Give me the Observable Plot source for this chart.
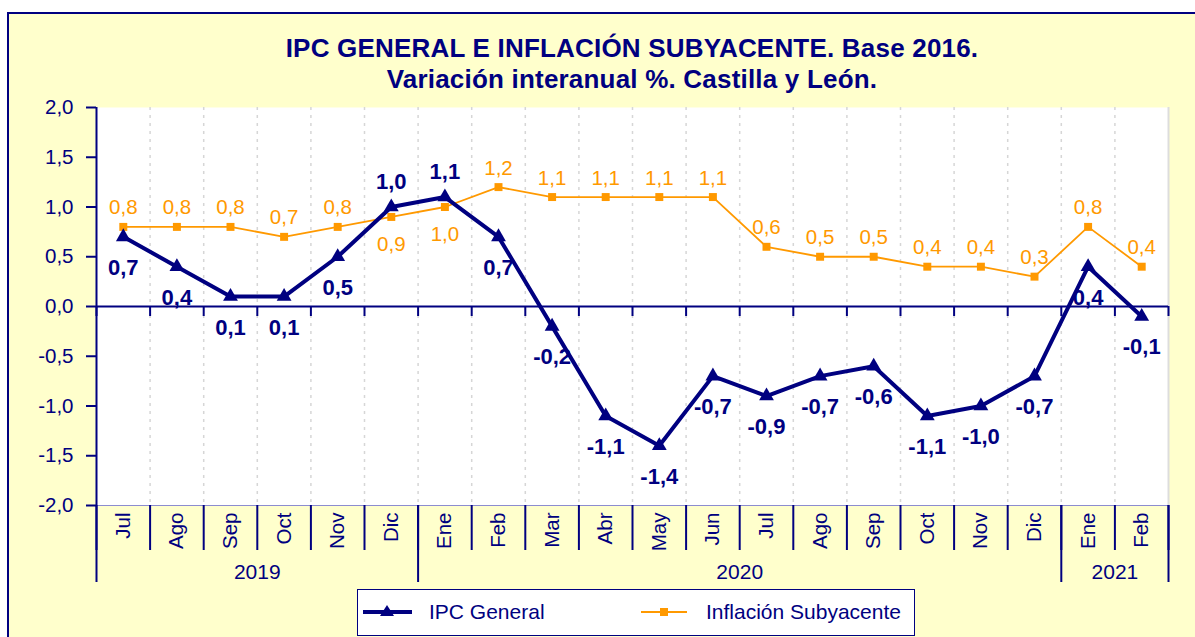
<!DOCTYPE html>
<html><head><meta charset="utf-8">
<script src="https://cdn.jsdelivr.net/npm/d3@7"></script>
<script src="https://cdn.jsdelivr.net/npm/@observablehq/plot@0.6"></script>
<style>
body{margin:0;background:#fff;}
#wrap{position:relative;width:1195px;height:637px;overflow:hidden;font-family:"Liberation Sans",Arial,sans-serif;}
#bg{position:absolute;left:7px;top:12px;width:1300px;height:700px;background:#FFFFCC;border:2.5px solid #000080;box-sizing:border-box;}
#title{position:absolute;left:0;top:33px;width:1264px;text-align:center;font-weight:bold;font-size:26px;line-height:31px;letter-spacing:0.2px;color:#000080;}
#chart{position:absolute;left:0;top:0;}
#legend{position:absolute;left:357px;top:589px;width:558px;height:47px;box-sizing:border-box;border:1.5px solid #000080;background:#fff;color:#000080;font-size:21px;}
#legend .item{position:absolute;top:0;height:44px;display:flex;align-items:center;}
#legend svg{display:block;}
</style>
</head><body>
<div id="wrap">
  <div id="bg"></div>
  <div id="title">IPC GENERAL E INFLACIÓN SUBYACENTE. Base 2016.<br>Variación interanual %. Castilla y León.</div>
  <div id="chart"></div>
  <div id="legend"></div>
</div>
<script>
const months = ["Jul","Ago","Sep","Oct","Nov","Dic","Ene","Feb","Mar","Abr","May","Jun","Jul","Ago","Sep","Oct","Nov","Dic","Ene","Feb"];
const years = ["2019","2020","2021"];
const monthsPerYear = [6, 12, 2];
const ipcGeneral = [0.7,0.4,0.1,0.1,0.5,1.0,1.1,0.7,-0.2,-1.1,-1.4,-0.7,-0.9,-0.7,-0.6,-1.1,-1.0,-0.7,0.4,-0.1];
const subyacente = [0.8,0.8,0.8,0.7,0.8,0.9,1.0,1.2,1.1,1.1,1.1,1.1,0.6,0.5,0.5,0.4,0.4,0.3,0.8,0.4];
const yTicks = [2,1.5,1,0.5,0,-0.5,-1,-1.5,-2];
const seriesNames = ["IPC General","Inflación Subyacente"];

const navy = "#000080", orange = "#FF9900";
const fmt = d => d.toFixed(1).replace(".", ",");
const idx = d3.range(months.length);
const bounds = d3.range(months.length + 1).map(i => i - 0.5);
const cum = d3.cumsum(monthsPerYear);
const yearBounds = [-0.5, ...Array.from(cum, c => c - 0.5)];
const yearCenters = monthsPerYear.map((n, k) => (k ? cum[k-1] : 0) + n / 2 - 0.5);
const ipcAbove = i => ipcGeneral[i] > subyacente[i];

const chart = Plot.plot({
  width: 1195, height: 637,
  marginLeft: 96, marginRight: 27, marginTop: 107, marginBottom: 132,
  x: {type: "linear", domain: [-0.5, months.length - 0.5], axis: null},
  y: {domain: [-2, 2], axis: null},
  style: {background: "transparent", fontFamily: "Liberation Sans, Arial, sans-serif", color: navy, overflow: "visible"},
  marks: [
    Plot.frame({fill: "white", stroke: "none"}),
    Plot.ruleX(bounds.slice(1, -1), {stroke: "#d6d6d6", strokeDasharray: "3,5", strokeWidth: 1.5}),
    Plot.ruleX([bounds[bounds.length - 1]], {stroke: "#dddddd", strokeWidth: 2}),
    Plot.ruleY([-2], {stroke: "#8c8cd0", strokeWidth: 1.2}),
    // y axis
    Plot.ruleX([-0.5], {stroke: navy, strokeWidth: 2}),
    Plot.ruleY(yTicks, {x1: -0.5, x2: -0.5, insetLeft: -10, stroke: navy, strokeWidth: 2}),
    Plot.text(yTicks, {x: -0.5, y: d => d, text: fmt, textAnchor: "end", dx: -23, fill: navy, fontSize: 20.5}),
    // zero axis
    Plot.ruleY([0], {stroke: navy, strokeWidth: 2}),
    Plot.ruleX(bounds, {y1: 0, y2: 0, insetBottom: -10, stroke: navy, strokeWidth: 2}),
    // category axis
    Plot.ruleX(bounds, {y1: -2, y2: -2, insetBottom: -45, stroke: navy, strokeWidth: 2}),
    Plot.ruleX(yearBounds, {y1: -2, y2: -2, insetBottom: -77, stroke: navy, strokeWidth: 2}),
    Plot.text(months, {x: (d, i) => i, y: -2, dy: 7, rotate: -90, textAnchor: "end", fill: navy, fontSize: 20.5}),
    Plot.text(years, {x: (d, i) => yearCenters[i], y: -2, dy: 67, fill: navy, fontSize: 21}),
    // series
    Plot.line(subyacente, {x: (d, i) => i, y: d => d, stroke: orange, strokeWidth: 1.8}),
    Plot.dot(subyacente, {x: (d, i) => i, y: d => d, symbol: "square", r: 4.5, fill: orange, stroke: "none"}),
    Plot.line(ipcGeneral, {x: (d, i) => i, y: d => d, stroke: navy, strokeWidth: 4}),
    Plot.dot(ipcGeneral, {x: (d, i) => i, y: d => d, symbol: "triangle", r: 5.5, fill: navy, stroke: "none"}),
    // labels
    Plot.text(idx, {filter: i => !ipcAbove(i), x: i => i, y: i => subyacente[i], text: i => fmt(subyacente[i]), dy: -19, fill: orange, fontSize: 20.5}),
    Plot.text(idx, {filter: i => ipcAbove(i), x: i => i, y: i => subyacente[i], text: i => fmt(subyacente[i]), dy: 27, fill: orange, fontSize: 20.5}),
    Plot.text(idx, {filter: i => !ipcAbove(i), x: i => i, y: i => ipcGeneral[i], text: i => fmt(ipcGeneral[i]), dy: 31, fill: navy, fontSize: 22, fontWeight: "bold"}),
    Plot.text(idx, {filter: i => ipcAbove(i), x: i => i, y: i => ipcGeneral[i], text: i => fmt(ipcGeneral[i]), dy: -25, fill: navy, fontSize: 22, fontWeight: "bold"})
  ]
});
document.getElementById("chart").appendChild(chart);

// legend
const legend = document.getElementById("legend");
legend.innerHTML = `
  <div class="item" style="left:3px">
    <svg width="52" height="20"><line x1="2" y1="10" x2="51" y2="10" stroke="${navy}" stroke-width="4"/><path d="M26,3 L33,14 L19,14 Z" fill="${navy}"/></svg>
    <span style="margin-left:16px">${seriesNames[0]}</span>
  </div>
  <div class="item" style="left:282px">
    <svg width="50" height="20"><line x1="1" y1="10" x2="47" y2="10" stroke="${orange}" stroke-width="2"/><rect x="20" y="6" width="8" height="8" fill="${orange}"/></svg>
    <span style="margin-left:16px">${seriesNames[1]}</span>
  </div>`;
</script>
</body></html>
